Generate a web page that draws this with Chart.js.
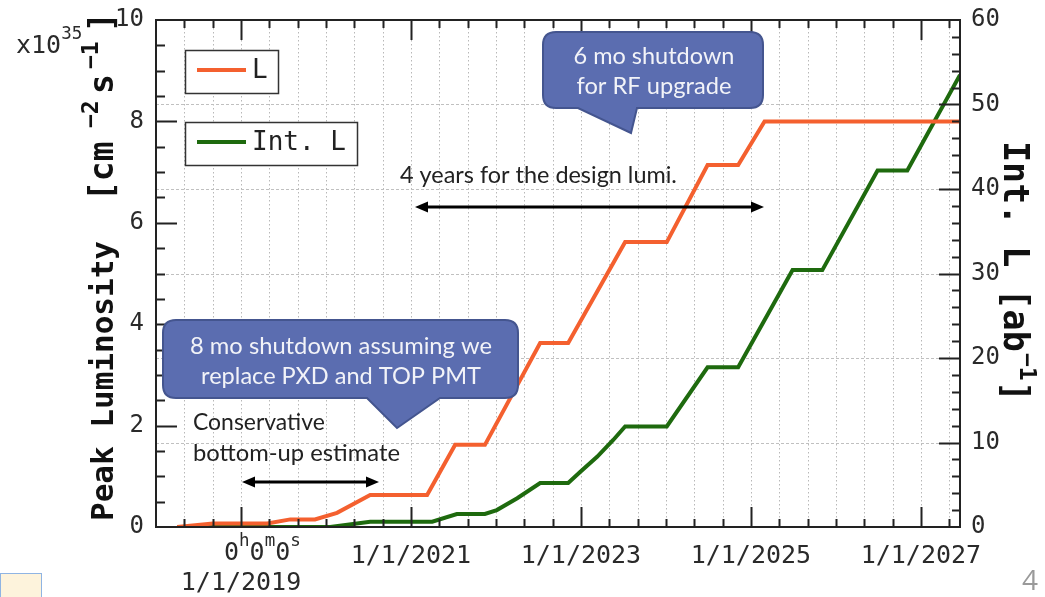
<!DOCTYPE html>
<html lang="en">
<head>
<meta charset="UTF-8">
<title>Peak and integrated luminosity projection</title>
<script src="https://cdn.jsdelivr.net/npm/chart.js"></script>
<style>
  html, body { margin: 0; padding: 0; background: #fff; }
  #wrap { position: relative; width: 1045px; height: 597px; overflow: hidden; }
  #note { position: absolute; left: 0; top: 573px; width: 40px; height: 30px; background: #fdf3dc; border: 1px solid #8fb4e3; }
  #page { position: absolute; left: 1022px; top: 560px; font: 28px 'Open Sans', sans-serif; color: #9a9a9a; }
</style>
</head>
<body>
<div id="wrap">
  <canvas id="chart" width="1045" height="597"></canvas>
  <div id="note"></div>
  <div id="page">4</div>
</div>
<script>
// peak luminosity L [x10^35 cm^-2 s^-1], x in decimal years
const lumYears  = [2018.25, 2018.67, 2019.31, 2019.58, 2019.87, 2020.13, 2020.52, 2021.19, 2021.52, 2021.87, 2022.52, 2022.85, 2023.52, 2024.01, 2024.49, 2024.85, 2025.16, 2027.46];
const lumValues = [0, 0.07, 0.07, 0.15, 0.15, 0.28, 0.63, 0.63, 1.62, 1.62, 3.63, 3.63, 5.62, 5.62, 7.14, 7.14, 8.0, 8.0];

// integrated luminosity [ab^-1]
const intYears  = [2018.25, 2020.05, 2020.52, 2021.25, 2021.54, 2021.87, 2022.01, 2022.25, 2022.52, 2022.85, 2022.99, 2023.19, 2023.38, 2023.52, 2024.01, 2024.49, 2024.85, 2025.49, 2025.84, 2026.49, 2026.84, 2027.46];
const intValues = [0, 0, 0.63, 0.63, 1.54, 1.54, 2.0, 3.4, 5.2, 5.2, 6.5, 8.3, 10.3, 11.9, 11.9, 18.9, 18.9, 30.4, 30.4, 42.2, 42.2, 53.5];

// axes
const xMin = 2018, xMax = 2027.46;
const xMinorMonths = 4;
const xLabelYears = [2021, 2023, 2025, 2027];
const xLabels = ['1/1/2021', '1/1/2023', '1/1/2025', '1/1/2027'];
const xMajorYears = [2019, 2021, 2023, 2025, 2027];

const xTicks = [];
for (let m = xMinorMonths; xMin + m / 12 <= xMax; m += xMinorMonths) xTicks.push(xMin + m / 12);

const MONO = '"DejaVu Sans Mono", monospace';
const SANS = 'Lato, "Open Sans", sans-serif';
const ORANGE = '#f4602f';
const GREEN = '#1e6a0e';

function near(a, b) { return Math.abs(a - b) < 1e-6; }

function rich(ctx, parts, x, y, size, bold) {
  let cx = x;
  parts.forEach(([t, sup]) => {
    const fs = sup ? size * 0.7 : size;
    ctx.font = (bold ? 'bold ' : '') + fs + 'px ' + MONO;
    ctx.fillText(t, cx, sup ? y - size * 0.45 : y);
    cx += ctx.measureText(t).width;
  });
  return cx - x;
}

// pieces placed at given offsets along the baseline: [text, offset, size, raise]
function pieces(ctx, list) {
  list.forEach(([t, off, size, raise]) => {
    ctx.font = 'bold ' + size + 'px ' + MONO;
    ctx.fillText(t, off, -raise);
  });
}

function fitText(ctx, text, cx, cy, width, align) {
  ctx.font = '20px ' + SANS;
  const size = 20 * width / ctx.measureText(text).width;
  ctx.font = size + 'px ' + SANS;
  ctx.textAlign = align || 'center';
  ctx.textBaseline = 'middle';
  ctx.fillText(text, cx, cy);
}

function callout(ctx, x, y, w, h, r, tail) {
  const b = y + h;
  ctx.beginPath();
  ctx.moveTo(x + r, y);
  ctx.lineTo(x + w - r, y);
  ctx.quadraticCurveTo(x + w, y, x + w, y + r);
  ctx.lineTo(x + w, b - r);
  ctx.quadraticCurveTo(x + w, b, x + w - r, b);
  ctx.lineTo(tail[2], b);
  ctx.lineTo(tail[1][0], tail[1][1]);
  ctx.lineTo(tail[0], b);
  ctx.lineTo(x + r, b);
  ctx.quadraticCurveTo(x, b, x, b - r);
  ctx.lineTo(x, y + r);
  ctx.quadraticCurveTo(x, y, x + r, y);
  ctx.closePath();
  ctx.fillStyle = '#5b6db0';
  ctx.fill();
  ctx.lineWidth = 2;
  ctx.strokeStyle = '#44558f';
  ctx.stroke();
}

function arrow2(ctx, x1, x2, y) {
  ctx.strokeStyle = '#000';
  ctx.fillStyle = '#000';
  ctx.lineWidth = 3;
  ctx.beginPath();
  ctx.moveTo(x1 + 8, y); ctx.lineTo(x2 - 8, y);
  ctx.stroke();
  [[x1, 1], [x2, -1]].forEach(([px, d]) => {
    ctx.beginPath();
    ctx.moveTo(px, y);
    ctx.lineTo(px + d * 13, y - 5.5);
    ctx.lineTo(px + d * 13, y + 5.5);
    ctx.closePath();
    ctx.fill();
  });
}

// dotted grid like the original (vertical at every minor x tick, horizontal at right-axis majors)
const dottedGrid = {
  id: 'dottedGrid',
  beforeDatasetsDraw(chart) {
    const { ctx, chartArea: a, scales } = chart;
    ctx.save();
    ctx.lineWidth = 1;
    ctx.strokeStyle = '#b8b8b8';
    ctx.setLineDash([1.5, 2.5]);
    ctx.beginPath();
    xTicks.forEach(v => {
      const px = Math.round(scales.x.getPixelForValue(v)) + 0.5;
      ctx.moveTo(px, a.top); ctx.lineTo(px, a.bottom);
    });
    ctx.stroke();
    ctx.strokeStyle = '#c0c0c0';
    ctx.setLineDash([3, 2]);
    ctx.beginPath();
    for (let v = 10; v < 60; v += 10) {
      const py = Math.round(scales.y2.getPixelForValue(v)) + 0.5;
      ctx.moveTo(a.left, py); ctx.lineTo(a.right, py);
    }
    ctx.stroke();
    ctx.restore();
  }
};

const decor = {
  id: 'decor',
  afterDraw(chart) {
    const { ctx, chartArea: a, scales } = chart;
    const sx = scales.x, sy = scales.y, sy2 = scales.y2;
    ctx.save();

    // tick marks, all pointing inwards
    ctx.strokeStyle = '#222';
    ctx.lineWidth = 2;
    ctx.beginPath();
    xTicks.forEach(v => {
      const px = Math.round(sx.getPixelForValue(v)) + 0.5;
      const len = xMajorYears.some(y => near(y, v)) ? 20 : 8;
      ctx.moveTo(px, a.bottom); ctx.lineTo(px, a.bottom - len);
      ctx.moveTo(px, a.top); ctx.lineTo(px, a.top + len);
    });
    for (let v = 0.5; v < 10; v += 0.5) {
      const py = Math.round(sy.getPixelForValue(v)) + 0.5;
      const len = v % 2 === 0 ? 21 : 9;
      ctx.moveTo(a.left, py); ctx.lineTo(a.left + len, py);
    }
    for (let v = 2; v < 60; v += 2) {
      const py = Math.round(sy2.getPixelForValue(v)) + 0.5;
      const len = v % 10 === 0 ? 21 : 8;
      ctx.moveTo(a.right, py); ctx.lineTo(a.right - len, py);
    }
    ctx.stroke();

    // frame
    ctx.strokeRect(a.left, a.top, a.right - a.left, a.bottom - a.top);

    // 2019 tick label as in the original plot
    ctx.fillStyle = '#2a2a2a';
    ctx.textBaseline = 'middle';
    ctx.textAlign = 'left';
    const p19 = sx.getPixelForValue(2019);
    rich(ctx, [['0', 0], ['h', 1], ['0', 0], ['m', 1], ['0', 0], ['s', 1]], p19 - 17, 553, 25, false);
    ctx.textAlign = 'center';
    ctx.font = '25px ' + MONO;
    ctx.fillText('1/1/2019', p19, 583);

    // y scale multiplier
    ctx.textAlign = 'left';
    rich(ctx, [['x10', 0], ['35', 1]], 16, 46, 25, false);

    // axis titles
    ctx.fillStyle = '#111';
    ctx.textBaseline = 'alphabetic';
    ctx.save();
    ctx.translate(113, 521);
    ctx.rotate(-Math.PI / 2);
    pieces(ctx, [
      ['Peak Luminosity', 0, 31, 0],
      ['[cm', 320, 33, 0],
      ['\u22122', 393, 23, 15],
      ['s', 427, 33, 0],
      ['\u22121', 452, 23, 15],
      [']', 489, 33, 0]
    ]);
    ctx.restore();
    ctx.save();
    ctx.translate(1004, 141);
    ctx.rotate(Math.PI / 2);
    pieces(ctx, [
      ['Int. L [ab', 0, 35, 0],
      ['\u22121', 212, 23, 16],
      [']', 240, 35, 0]
    ]);
    ctx.restore();

    // legend boxes
    ctx.lineWidth = 1.5;
    ctx.strokeStyle = '#333';
    ctx.fillStyle = '#fff';
    [[185, 50, 93, 43, ORANGE, 'L'], [185, 122, 172, 43, GREEN, 'Int. L']].forEach(([x, y, w, h, c, t]) => {
      ctx.fillRect(x, y, w, h);
      ctx.strokeRect(x + 0.5, y + 0.5, w, h);
      ctx.save();
      ctx.strokeStyle = c;
      ctx.lineWidth = 4;
      ctx.beginPath();
      ctx.moveTo(197, y + 20); ctx.lineTo(246, y + 20);
      ctx.stroke();
      ctx.restore();
      ctx.fillStyle = '#222';
      ctx.font = '26px ' + MONO;
      ctx.textAlign = 'left';
      ctx.textBaseline = 'middle';
      ctx.fillText(t, 252, y + 21);
      ctx.fillStyle = '#fff';
    });

    // callouts
    callout(ctx, 543, 32, 220, 76, 13, [578, [631, 133], 637]);
    callout(ctx, 163, 320, 355, 78, 13, [367, [397, 428], 440]);
    ctx.fillStyle = '#f2f3f8';
    fitText(ctx, '6 mo shutdown', 654, 56, 161);
    fitText(ctx, 'for RF upgrade', 654, 86, 155);
    fitText(ctx, '8 mo shutdown assuming we', 341, 346, 302);
    fitText(ctx, 'replace PXD and TOP PMT', 341, 376, 280);

    // plain annotations
    ctx.fillStyle = '#222';
    fitText(ctx, '4 years for the design lumi.', 400, 175, 277, 'left');
    fitText(ctx, 'Conservative', 193, 423, 132, 'left');
    fitText(ctx, 'bottom-up estimate', 193, 453, 207, 'left');
    arrow2(ctx, 415, 764, 207);
    arrow2(ctx, 242, 379, 482);

    ctx.restore();
  }
};

new Chart(document.getElementById('chart'), {
  type: 'scatter',
  data: {
    datasets: [
      {
        label: 'L',
        data: lumYears.map((x, i) => ({ x, y: lumValues[i] })),
        yAxisID: 'y',
        showLine: true,
        borderColor: ORANGE,
        borderWidth: 4,
        pointRadius: 0,
        tension: 0
      },
      {
        label: 'Int. L',
        data: intYears.map((x, i) => ({ x, y: intValues[i] })),
        yAxisID: 'y2',
        showLine: true,
        borderColor: GREEN,
        borderWidth: 4,
        pointRadius: 0,
        tension: 0
      }
    ]
  },
  options: {
    responsive: false,
    animation: false,
    layout: { padding: { top: 20, left: 0, right: 0, bottom: 0 } },
    plugins: { legend: { display: false }, tooltip: { enabled: false } },
    scales: {
      x: {
        type: 'linear',
        min: xMin,
        max: xMax,
        afterBuildTicks: s => { s.ticks = xTicks.map(v => ({ value: v })); },
        afterFit: s => { s.height = 70; },
        grid: { display: false },
        border: { display: false },
        ticks: {
          autoSkip: false,
          maxRotation: 0,
          padding: 6,
          color: '#2a2a2a',
          font: { family: MONO, size: 25 },
          callback: v => {
            const i = xLabelYears.findIndex(y => near(y, v));
            return i >= 0 ? xLabels[i] : '';
          }
        }
      },
      y: {
        position: 'left',
        min: 0,
        max: 10,
        afterFit: s => { s.width = 156; },
        grid: { display: false },
        border: { display: false },
        ticks: { stepSize: 2, padding: 4, color: '#2a2a2a', font: { family: MONO, size: 24 } }
      },
      y2: {
        position: 'right',
        min: 0,
        max: 60,
        afterFit: s => { s.width = 85; },
        grid: { display: false },
        border: { display: false },
        ticks: { stepSize: 10, padding: 3, color: '#2a2a2a', font: { family: MONO, size: 24 } }
      }
    }
  },
  plugins: [dottedGrid, decor]
});
</script>
</body>
</html>
